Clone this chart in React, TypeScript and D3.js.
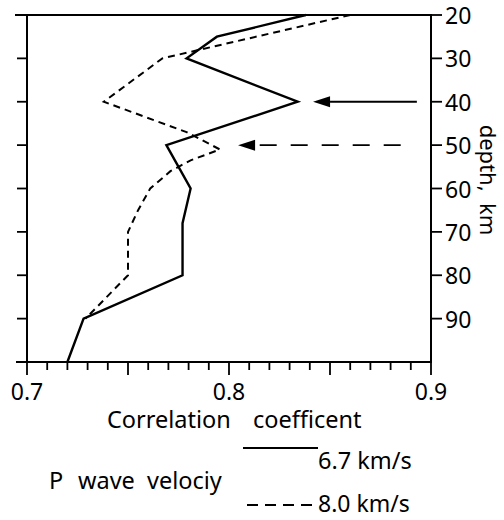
import React from "react";
import * as d3 from "d3";

// Depth axis (km) and correlation axis ticks
const depthTicks = [20, 30, 40, 50, 60, 70, 80, 90];
const depthEdgeTicks = [20, 30, 40, 50, 60, 70, 80, 90, 100];
const corrTickLabels = [0.7, 0.8, 0.9];

// Correlation coefficient profile for P wave velocity 6.7 km/s
const depth67 = [20, 25, 30, 40, 50, 60, 68, 80, 90, 100];
const corr67 = [0.838, 0.794, 0.779, 0.834, 0.769, 0.781, 0.777, 0.777, 0.728, 0.72];

// Correlation coefficient profile for P wave velocity 8.0 km/s
const depth80 = [20, 30, 40, 47, 51, 53.5, 56, 60, 65, 70, 80, 90];
const corr80 = [0.86, 0.767, 0.738, 0.779, 0.7955, 0.781, 0.771, 0.761, 0.755, 0.75, 0.75, 0.729];

// Arrows pointing at the correlation peaks (depth, tail, tip)
const arrowDepths = [40, 50];
const arrowTails = [0.893, 0.885];
const arrowTips = [0.8416, 0.8045];
const arrowDashed = [false, true];

// Legend text
const legendTitleWords = ["P", "wave", "velociy"];
const legendLabels = ["6.7 km/s", "8.0 km/s"];
const axisTitleWords = ["Correlation", "coefficent"];

const W = 504;
const H = 520;
const FONT = "'Noto Sans', 'DejaVu Sans', sans-serif";

export default function App() {
  const x = d3.scaleLinear().domain([0.7, 0.9]).range([27, 431]);
  const y = d3.scaleLinear().domain([20, 100]).range([15, 362]);

  const line = (depths: number[], corr: number[]) =>
    d3
      .line<number>()
      .x((_, i) => x(corr[i]))
      .y((d) => y(d))(depths) || "";

  const minorTicks = d3.range(0, 21).map((i) => ({ v: 0.7 + i * 0.01, major: i % 5 === 0 }));
  const [x0, x1] = x.range();
  const [y0, y1] = y.range();

  const titleX = [107, 253];
  const legendWordX = [49, 78, 147];

  return (
    <svg
      width={W}
      height={H}
      viewBox={`0 0 ${W} ${H}`}
      style={{ position: "absolute", left: 0, top: 0, background: "#fff" }}
      fontFamily={FONT}
    >
      <rect width={W} height={H} fill="#fff" />

      {/* frame */}
      <g stroke="#000" strokeWidth={2} fill="none" strokeLinecap="square">
        <line x1={x0 - 11} x2={x1} y1={y0} y2={y0} />
        <line x1={x0 - 10} x2={x1} y1={y1} y2={y1} />
        <line x1={x0} x2={x0} y1={y0} y2={y1} />
        <line x1={x1} x2={x1} y1={y0} y2={y1} />
      </g>

      {/* correlation ticks on the bottom edge */}
      <g stroke="#000" strokeWidth={1.8}>
        {minorTicks.map((t, i) => (
          <line key={i} x1={x(t.v)} x2={x(t.v)} y1={y1} y2={y1 + (t.major ? 13 : 8)} />
        ))}
      </g>

      {/* depth ticks on the left edge */}
      <g stroke="#000" strokeWidth={1.8}>
        {depthEdgeTicks.map((d) => (
          <line key={d} x1={x0 - 10} x2={x0} y1={y(d)} y2={y(d)} />
        ))}
      </g>

      {/* depth ticks and labels on the right edge */}
      <g stroke="#000" strokeWidth={1.8}>
        {depthTicks.map((d) => (
          <line key={d} x1={x1} x2={x1 + 11} y1={y(d)} y2={y(d)} />
        ))}
      </g>
      <g fontSize={23} fill="#000">
        {depthTicks.map((d) => (
          <text key={d} x={x1 + 14} y={y(d)} dominantBaseline="central">
            {d}
          </text>
        ))}
      </g>

      {/* correlation labels */}
      <g fontSize={23} fill="#000" textAnchor="middle">
        {corrTickLabels.map((v) => (
          <text key={v} x={x(v)} y={y1 + 38}>
            {v.toFixed(1)}
          </text>
        ))}
      </g>

      <g fontSize={23.5} fill="#000">
        {axisTitleWords.map((w, i) => (
          <text key={w} x={titleX[i]} y={428}>
            {w}
          </text>
        ))}
      </g>

      <text
        transform={`translate(489,180) rotate(90)`}
        fontSize={22}
        textAnchor="middle"
        dominantBaseline="central"
        style={{ whiteSpace: "pre" }}
      >
        {"depth,  km"}
      </text>

      {/* profiles */}
      <path d={line(depth67, corr67)} fill="none" stroke="#000" strokeWidth={2.4} strokeLinejoin="miter" />
      <path
        d={line(depth80, corr80)}
        fill="none"
        stroke="#000"
        strokeWidth={2}
        strokeDasharray="7,5"
      />

      {/* arrows */}
      {arrowDepths.map((d, i) => {
        const tip = x(arrowTips[i]);
        const tail = x(arrowTails[i]);
        const yy = y(d);
        const head = 17;
        return (
          <g key={d}>
            <line
              x1={tail}
              x2={tip + head}
              y1={yy}
              y2={yy}
              stroke="#000"
              strokeWidth={1.8}
              strokeDasharray={arrowDashed[i] ? "17,14" : undefined}
            />
            <path d={`M${tip},${yy}L${tip + head},${yy - 5.5}L${tip + head},${yy + 5.5}Z`} fill="#000" />
          </g>
        );
      })}

      {/* legend */}
      <g fontSize={23.5} fill="#000">
        {legendTitleWords.map((w, i) => (
          <text key={w} x={legendWordX[i]} y={489}>
            {w}
          </text>
        ))}
      </g>
      <line x1={243} x2={318} y1={448} y2={448} stroke="#000" strokeWidth={2} />
      <text x={318} y={469} fontSize={23.5}>
        {legendLabels[0]}
      </text>
      <line x1={247} x2={319} y1={505} y2={505} stroke="#000" strokeWidth={2} strokeDasharray="11,7" />
      <text x={318} y={512} fontSize={23}>
        {legendLabels[1]}
      </text>
    </svg>
  );
}
